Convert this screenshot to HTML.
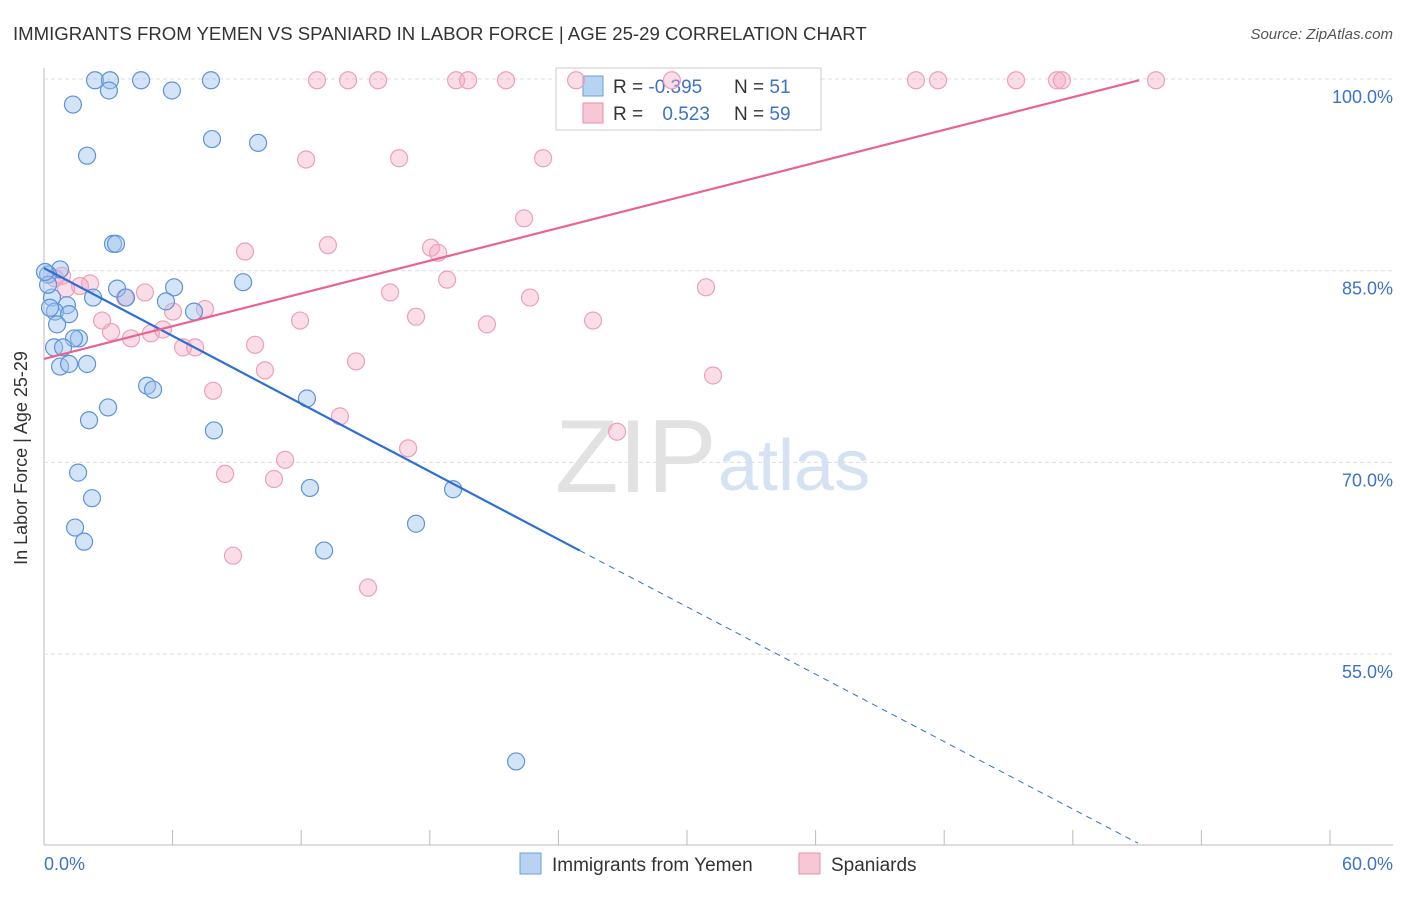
<!DOCTYPE html>
<html><head><meta charset="utf-8"><style>
body{margin:0;background:#fff;font-family:"Liberation Sans",sans-serif}
svg text{font-family:"Liberation Sans",sans-serif}
</style></head><body>
<svg width="1406" height="892" xmlns="http://www.w3.org/2000/svg">
<text x="13" y="40" font-size="18.6" fill="#333">IMMIGRANTS FROM YEMEN VS SPANIARD IN LABOR FORCE | AGE 25-29 CORRELATION CHART</text>
<text x="1393" y="39" font-size="15" fill="#555" font-style="italic" text-anchor="end">Source: ZipAtlas.com</text>
<g id="grid"></g>
<text x="555" y="492" font-size="104" fill="#e2e2e2" font-family="Liberation Serif">ZIP</text>
<text x="718" y="490" font-size="72" fill="#d4e2f3">atlas</text>
<g>
<rect x="556" y="68" width="265" height="62" fill="#fff" stroke="#ccc"/>
<rect x="583" y="76" width="20" height="20" fill="#b8d3f2" stroke="#6a9ee0"/>
<rect x="583" y="103" width="20" height="20" fill="#f8c7d6" stroke="#ea8fab"/>
<text x="613" y="93" font-size="19" fill="#333">R = <tspan fill="#3b73c9">-0.395</tspan></text>
<text x="734" y="93" font-size="19" fill="#333">N = <tspan fill="#3b73c9">51</tspan></text>
<text x="613" y="120" font-size="19" fill="#333">R = <tspan fill="#3b73c9" dx="14">0.523</tspan></text>
<text x="734" y="120" font-size="19" fill="#333">N = <tspan fill="#3b73c9">59</tspan></text>
</g>
<g id="pts"></g>
<g id="lines"></g>
<text x="27" y="458" font-size="18" fill="#333" text-anchor="middle" transform="rotate(-90 27 458)">In Labor Force | Age 25-29</text>
<text x="44" y="870" font-size="18" fill="#3b73c9">0.0%</text>
<text x="1393" y="870" font-size="18" fill="#3b73c9" text-anchor="end">60.0%</text>
<g><rect x="520" y="853" width="21" height="21" fill="#b8d3f2" stroke="#6a9ee0"/><text x="552" y="871" font-size="19" fill="#333">Immigrants from Yemen</text></g>
<g><rect x="799" y="853" width="21" height="21" fill="#f8c7d6" stroke="#ea8fab"/><text x="831" y="871" font-size="19" fill="#333">Spaniards</text></g>
</svg>
<script>
const blueX=[2.38,3.08,4.53,7.79,3.03,5.97,1.35,7.84,9.99,2.01,3.22,3.36,0.75,0.19,9.29,6.07,3.41,2.29,3.83,5.69,0.37,1.07,0.51,1.17,7.0,0.61,1.63,1.4,0.47,0.89,0.75,1.17,2.01,4.81,5.09,2.99,12.27,2.1,7.93,1.59,2.24,12.41,19.09,1.45,1.87,17.36,13.07,22.03,0.19,0.28,0.05];
const blueY=[99.9,99.9,99.9,99.9,99.1,99.1,98.0,95.3,95.0,94.0,87.1,87.1,85.1,84.7,84.1,83.7,83.6,82.9,82.9,82.6,82.9,82.3,81.8,81.6,81.8,80.8,79.7,79.7,79.0,79.0,77.5,77.7,77.7,76.0,75.7,74.3,75.0,73.3,72.5,69.2,67.2,68.0,67.9,64.9,63.8,65.2,63.1,46.6,83.9,82.1,84.9];
const pinkX=[12.74,14.19,15.59,19.23,19.79,21.56,24.83,29.3,40.69,41.72,45.36,47.27,47.5,51.89,12.23,16.57,23.29,22.4,9.38,13.25,18.06,18.39,18.81,30.89,16.15,22.68,4.71,7.51,6.02,2.15,0.51,0.84,1.03,1.68,3.78,11.95,17.36,20.67,25.62,2.71,3.13,4.06,4.99,5.55,6.49,7.05,9.85,14.56,10.31,31.22,7.89,13.81,16.99,26.74,11.25,8.45,10.73,8.82,15.12];
const pinkY=[99.9,99.9,99.9,99.9,99.9,99.9,99.9,99.9,99.9,99.9,99.9,99.9,99.9,99.9,93.7,93.8,93.8,89.1,86.5,87.0,86.8,86.4,84.3,83.7,83.3,82.9,83.3,82.0,81.8,84.0,84.4,84.6,83.6,83.8,82.9,81.1,81.4,80.8,81.1,81.1,80.2,79.7,80.1,80.4,79.0,79.0,79.2,77.9,77.2,76.8,75.6,73.6,71.1,72.4,70.2,69.1,68.7,62.7,60.2];
const yTicks=[100,85,70,55];
const blueTrend=[0,85.2,25.0,63.1,51.05,40.2];
const pinkTrend=[0,78.1,51.1,99.9];
const X=v=>44+v*21.43, Y=v=>79+(100-v)*12.78;
const NS="http://www.w3.org/2000/svg";
function mk(t,a,p){const e=document.createElementNS(NS,t);for(const k in a)e.setAttribute(k,a[k]);p.appendChild(e);return e;}
const g=document.getElementById('grid');
mk('line',{x1:44,y1:68,x2:44,y2:845,stroke:'#bbb'},g);
mk('line',{x1:44,y1:845,x2:1393,y2:845,stroke:'#bbb'},g);
for(let i=1;i<=10;i++){const t=mk('line',{x1:44+i*128.6,y1:830,x2:44+i*128.6,y2:845,stroke:'#bbb'},g);

}
yTicks.forEach(v=>{const l=mk('line',{x1:44,y1:Y(v),x2:1393,y2:Y(v),stroke:'#ddd','stroke-dasharray':'4,3'},g);


const t=mk('text',{x:1393,y:Y(v)+24,'font-size':18,fill:'#3b73c9','text-anchor':'end'},g);t.textContent=v.toFixed(1)+'%';

});
const p=document.getElementById('pts');
pinkX.forEach((x,i)=>{const c=mk('circle',{cx:X(x),cy:Y(pinkY[i]),r:8.5,fill:'rgba(244,170,194,0.4)',stroke:'#eda0b8','stroke-width':1.2},p);

});
blueX.forEach((x,i)=>{const c=mk('circle',{cx:X(x),cy:Y(blueY[i]),r:8.5,fill:'rgba(160,196,238,0.45)',stroke:'#5d93da','stroke-width':1.2},p);

});
const L=document.getElementById('lines');
const b1=mk('line',{x1:X(blueTrend[0]),y1:Y(blueTrend[1]),x2:X(blueTrend[2]),y2:Y(blueTrend[3]),stroke:'#2e6fd6','stroke-width':2.2},L);


const b2=mk('line',{x1:X(blueTrend[2]),y1:Y(blueTrend[3]),x2:X(blueTrend[4]),y2:Y(blueTrend[5]),stroke:'#2e6fd6','stroke-width':1,'stroke-dasharray':'6,5'},L);


const p1=mk('line',{x1:X(pinkTrend[0]),y1:Y(pinkTrend[1]),x2:X(pinkTrend[2]),y2:Y(pinkTrend[3]),stroke:'#e8648e','stroke-width':2.2},L);


</script>
</body></html>
